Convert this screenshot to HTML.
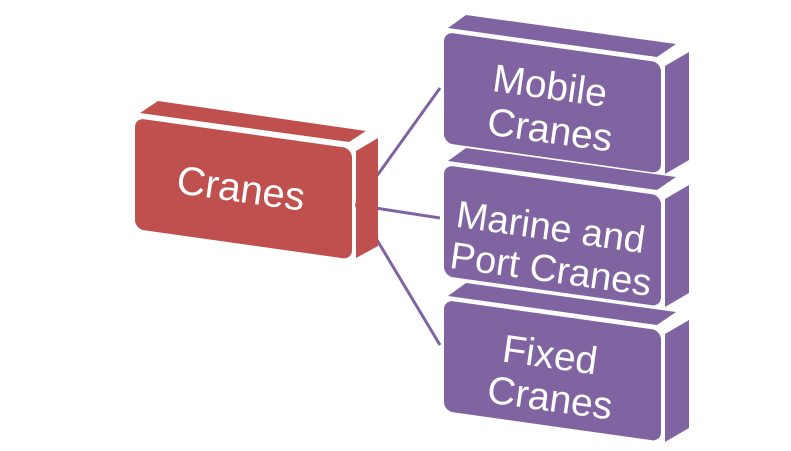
<!DOCTYPE html>
<html><head><meta charset="utf-8"><style>html,body{margin:0;padding:0;background:#fff;width:791px;height:451px;overflow:hidden}</style></head>
<body>
<svg width="791" height="451" viewBox="0 0 791 451" xmlns="http://www.w3.org/2000/svg" font-family="'Liberation Sans', sans-serif">
<g stroke="#8064A2" stroke-width="3">
<line x1="356" y1="205" x2="440" y2="88"/>
<line x1="356" y1="205" x2="440" y2="218"/>
<line x1="356" y1="205" x2="440" y2="345"/>
</g>
<g fill="#C0504D">
<polygon points="140,113 349,142 366,131 158,101"/>
<polygon points="356,151 378,138 378,246 356,258"/>
<g transform="translate(135,118) skewY(8)"><rect x="0" y="0" width="217" height="111" rx="9"/></g>
</g>
<text x="241" y="202" fill="#fff" font-size="40" text-anchor="middle" transform="rotate(8 241 188)">Cranes</text>
<g fill="#8064A2">
<polygon points="448,28 657,57 676,44 466,15"/>
<polygon points="665,66 689,52 689,160 665,174"/>
<g transform="translate(444,32) skewY(8)"><rect width="217" height="111" rx="9"/></g>
<polygon points="448,161 657,190 676,177 466,148"/>
<polygon points="665,199 689,185 689,293 665,307"/>
<g transform="translate(444,165) skewY(8)"><rect width="217" height="111" rx="9"/></g>
<polygon points="448,296 657,325 676,312 466,283"/>
<polygon points="665,334 689,320 689,428 665,442"/>
<g transform="translate(444,300) skewY(8)"><rect width="217" height="111" rx="9"/></g>
</g>
<g fill="#fff" font-size="39" text-anchor="middle">
<text x="550" y="99" transform="rotate(8 550 86)">Mobile</text>
<text x="550" y="143" transform="rotate(8 550 130)">Cranes</text>
<text x="551" y="240" font-size="38" transform="rotate(8 551 226)">Marine and</text>
<text x="551" y="282" font-size="38" transform="rotate(8 551 268)">Port Cranes</text>
<text x="550" y="368" transform="rotate(8 550 355)">Fixed</text>
<text x="550" y="411" transform="rotate(8 550 398)">Cranes</text>
</g>
</svg>
</body></html>
